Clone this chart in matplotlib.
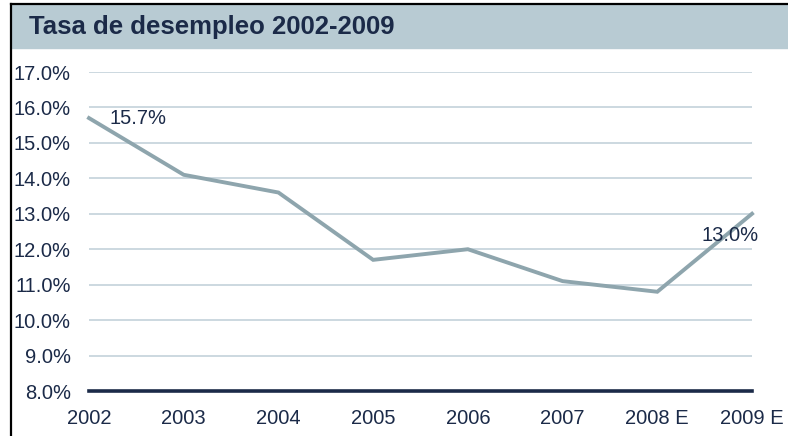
import matplotlib.pyplot as plt
from matplotlib.patches import Rectangle
from matplotlib.lines import Line2D

plt.rcParams['font.family'] = ['Liberation Sans', 'DejaVu Sans']

years = ['2002', '2003', '2004', '2005', '2006', '2007', '2008 E', '2009 E']
rate = [15.7, 14.1, 13.6, 11.7, 12.0, 11.1, 10.8, 13.0]
yticks = [8, 9, 10, 11, 12, 13, 14, 15, 16, 17]

navy = '#1b2a48'
line_col = '#8ea5ad'
grid_col = '#c3d2da'

fig = plt.figure(figsize=(7.88, 4.36), dpi=100)
W, H = 788, 436

# title band and frame
fig.patches.append(Rectangle((11 / W, 1 - 48 / H), 1 - 11 / W, 43 / H,
                             transform=fig.transFigure, color='#b8cbd3', zorder=0))
fig.lines.append(Line2D([11 / W, 11 / W], [0, 1 - 4 / H], transform=fig.transFigure,
                        color='black', lw=1.6))
fig.lines.append(Line2D([11 / W, 1], [1 - 4 / H, 1 - 4 / H], transform=fig.transFigure,
                        color='black', lw=1.6))
fig.text(29 / W, 1 - 27 / H, 'Tasa de desempleo 2002-2009', fontsize=18.5,
         fontweight='bold', color=navy, va='center', ha='left')

ax = fig.add_axes([89 / W, 1 - 391 / H, (752 - 89) / W, (391 - 72) / H])
x = list(range(len(years)))

for v in yticks[1:]:
    ax.axhline(v, color=grid_col, lw=1.2, zorder=1)
ax.axhline(8, color=navy, lw=2.6, zorder=3, clip_on=False)

ax.plot(x, rate, color=line_col, lw=2.8, zorder=2, clip_on=False,
        solid_joinstyle='miter')

ax.text(0.22, rate[0], f'{rate[0]:.1f}%', fontsize=14.5, color=navy,
        va='center', ha='left')
ax.text(6.47, rate[-1] - 0.6, f'{rate[-1]:.1f}%', fontsize=14.5, color=navy,
        va='center', ha='left')

ax.set_xlim(0, 7)
ax.set_ylim(8, 17)
ax.set_yticks(yticks)
ax.set_yticklabels([f'{v:.1f}%' for v in yticks])
ax.set_xticks(x)
ax.set_xticklabels(years)
ax.tick_params(length=0, labelsize=14.5, colors=navy)
ax.tick_params(axis='y', pad=13)
ax.tick_params(axis='x', pad=13)
for s in ax.spines.values():
    s.set_visible(False)

fig.savefig('out.png', dpi=100)
